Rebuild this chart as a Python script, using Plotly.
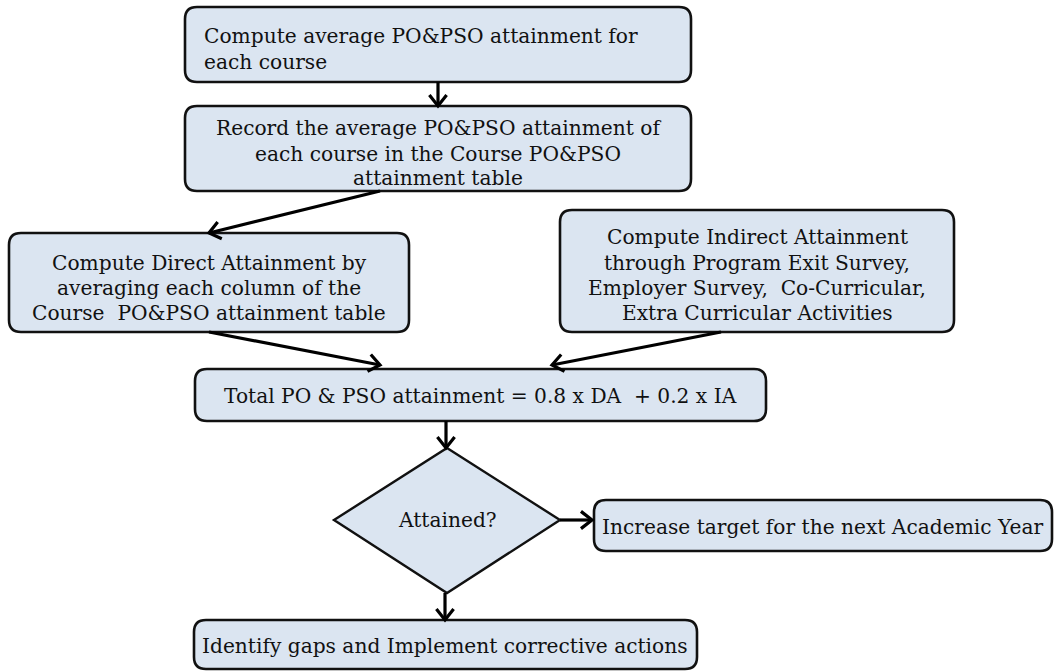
import math
import plotly.graph_objects as go

# ---------------- data (texts of the flowchart) ----------------
step_compute_avg = ["Compute average PO&PSO attainment for", "each course"]
step_record = ["Record the average PO&PSO attainment of",
               "each course in the Course PO&PSO",
               "attainment table"]
step_direct = ["Compute Direct Attainment by",
               "averaging each column of the",
               "Course  PO&PSO attainment table"]
step_indirect = ["Compute Indirect Attainment",
                 "through Program Exit Survey,",
                 "Employer Survey,  Co-Curricular,",
                 "Extra Curricular Activities"]
step_total = ["Total PO & PSO attainment = 0.8 x DA  + 0.2 x IA"]
decision = ["Attained?"]
step_increase = ["Increase target for the next Academic Year"]
step_gaps = ["Identify gaps and Implement corrective actions"]

# ---------------- layout geometry (pixels, y downwards) ----------------
W, H = 1055, 671
FILL = "#dbe5f1"
EDGE = "#111111"
TXT = "#111111"
SERIF = "DejaVu Serif"
FS = 20.2

# (lines, x0, x1, y0, y1, line centres, text x, anchor)
boxes = [
    (step_compute_avg, 185, 691, 7, 82, [36, 62], 202, "left"),
    (step_record, 185, 691, 106, 191, [128, 154, 178], 438, "center"),
    (step_direct, 9, 409, 233, 332, [263, 288, 313], 209, "center"),
    (step_indirect, 560, 954, 210, 332, [237, 263, 288, 313], 757, "center"),
    (step_total, 195, 766, 369, 421, [396], 480, "center"),
    (step_increase, 594, 1052, 500, 551, [527], 823, "center"),
    (step_gaps, 194, 697, 620, 669, [646], 445, "center"),
]
diamond_geom = (447, 448, 334, 560, 520, 593)  # cx, top, left, right, cy, bottom

arrows = [
    (438, 82, 438, 106),
    (380, 191, 209, 233),
    (209, 332, 380, 365),
    (721, 332, 552, 365),
    (446, 421, 446, 448),
    (560, 520, 592, 520),
    (445, 593, 445, 620),
]

fig = go.Figure()
shapes = []
annotations = []


def rounded_rect(x0, x1, y0, y1, r=12):
    return (f"M {x0+r},{y0} L {x1-r},{y0} Q {x1},{y0} {x1},{y0+r} "
            f"L {x1},{y1-r} Q {x1},{y1} {x1-r},{y1} "
            f"L {x0+r},{y1} Q {x0},{y1} {x0},{y1-r} "
            f"L {x0},{y0+r} Q {x0},{y0} {x0+r},{y0} Z")


for lines, x0, x1, y0, y1, ys, tx, anchor in boxes:
    shapes.append(dict(type="path", path=rounded_rect(x0, x1, y0, y1),
                       xref="x", yref="y", fillcolor=FILL,
                       line=dict(color=EDGE, width=2.6), layer="below"))
    for txt, yy in zip(lines, ys):
        annotations.append(dict(x=tx, y=yy, xref="x", yref="y", text=txt,
                                showarrow=False, xanchor=anchor, yanchor="middle",
                                font=dict(family=SERIF, size=FS, color=TXT)))

cx, top, left, right, cy, bottom = diamond_geom
shapes.append(dict(type="path",
                   path=f"M {cx},{top} L {right},{cy} L {cx},{bottom} L {left},{cy} Z",
                   xref="x", yref="y", fillcolor=FILL,
                   line=dict(color=EDGE, width=2.4), layer="below"))
annotations.append(dict(x=cx, y=cy, xref="x", yref="y", text=decision[0],
                        showarrow=False, xanchor="center", yanchor="middle",
                        font=dict(family=SERIF, size=FS, color=TXT)))

L, th = 14, math.radians(38)
for x0, y0, x1, y1 in arrows:
    shapes.append(dict(type="line", x0=x0, y0=y0, x1=x1, y1=y1, xref="x", yref="y",
                       line=dict(color="#000000", width=3.2)))
    dx, dy = x1 - x0, y1 - y0
    n = math.hypot(dx, dy)
    ux, uy = dx / n, dy / n
    pts = []
    for s in (th, -th):
        rx = ux * math.cos(s) - uy * math.sin(s)
        ry = ux * math.sin(s) + uy * math.cos(s)
        pts.append((x1 - L * rx, y1 - L * ry))
    shapes.append(dict(type="path",
                       path=f"M {pts[0][0]},{pts[0][1]} L {x1},{y1} L {pts[1][0]},{pts[1][1]}",
                       xref="x", yref="y", line=dict(color="#000000", width=3.2)))

fig.update_layout(
    width=W, height=H, margin=dict(l=0, r=0, t=0, b=0),
    paper_bgcolor="white", plot_bgcolor="white",
    xaxis=dict(range=[0, W], visible=False, fixedrange=True),
    yaxis=dict(range=[H, 0], visible=False, fixedrange=True),
    shapes=shapes, annotations=annotations, showlegend=False,
)

fig.write_html("out.html", config={"displayModeBar": False},
               post_script="document.body.style.margin='0px';document.body.style.overflow='hidden';")
